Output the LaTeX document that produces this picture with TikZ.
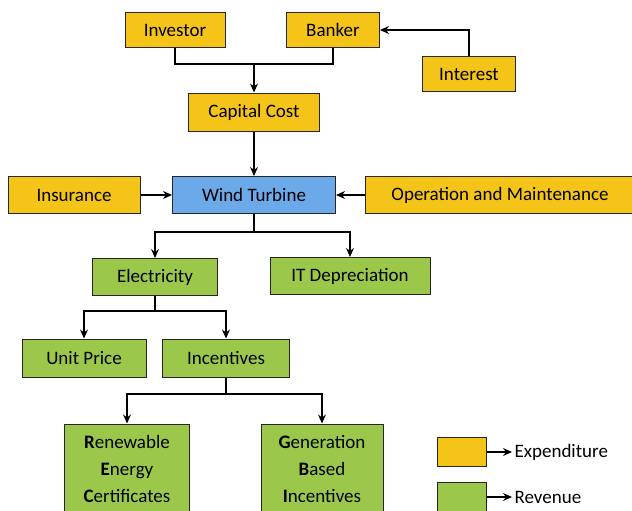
\documentclass[tikz,border=0pt]{standalone}
\usepackage{fontspec}
\setmainfont{Carlito}
\usetikzlibrary{arrows.meta,positioning}

\definecolor{costyellow}{RGB}{245,196,24}
\definecolor{hubblue}{RGB}{107,169,232}
\definecolor{incomegreen}{RGB}{155,200,74}

\begin{document}
\begin{tikzpicture}[x=1pt,y=-1pt,>={Stealth[length=9pt,width=8pt]},line width=1.2pt,
      box/.style={rectangle,draw=black!85,line width=1pt,inner sep=0pt,align=center,
        font=\fontsize{19}{27}\selectfont},
      cost node/.style={box,fill=costyellow},
      hub node/.style={box,fill=hubblue},
      income node/.style={box,fill=incomegreen}]
      \useasboundingbox (0,0) rectangle (632,511);

      % expenditure side
      \node[cost node,minimum width=100pt,minimum height=35pt] (investor) at (175,30) {Investor};
      \node[cost node,minimum width=93pt,minimum height=35pt] (banker) at (333,30) {Banker};
      \node[cost node,minimum width=93pt,minimum height=35pt] (interest) at (469,74) {Interest};
      \node[cost node,minimum width=131pt,minimum height=38pt] (capital) at (254,112) {Capital Cost};
      \node[hub node,minimum width=163pt,minimum height=37pt] (turbine) at (254,195) {Wind Turbine};
      \node[cost node,minimum width=132pt,minimum height=37pt] (insurance) at (74,195) {Insurance};
      \node[cost node,minimum width=270pt,minimum height=37pt] (om) at (500,195) {Operation and Maintenance};

      % revenue side
      \node[income node,minimum width=125pt,minimum height=37pt] (electricity) at (155,277) {Electricity};
      \node[income node,minimum width=160pt,minimum height=37pt] (itdep) at (350,276) {IT Depreciation};
      \node[income node,minimum width=124pt,minimum height=38pt] (unitprice) at (84,358) {Unit Price};
      \node[income node,minimum width=127pt,minimum height=38pt] (incentives) at (226,358) {Incentives};
      \node[income node,minimum width=125pt,minimum height=90pt] (rec) at (127,469)
        {\textbf{R}enewable\\\textbf{E}nergy\\\textbf{C}ertificates};
      \node[income node,minimum width=122pt,minimum height=90pt] (gbi) at (322,469)
        {\textbf{G}eneration\\\textbf{B}ased\\\textbf{I}ncentives};

      % branching points
      \coordinate (fork1) at (254,64);
      \coordinate (fork2) at (254,232);
      \coordinate (fork3) at (155,311);
      \coordinate (fork4) at (226,394);

      \draw (investor) |- (fork1) -| (banker);
      \draw[->] (fork1) -- (capital);
      \draw[->] (interest) |- (banker);
      \draw[->] (capital) -- (turbine);
      \draw[->] (insurance) -- (turbine);
      \draw[->] (om) -- (turbine);

      \draw (turbine) -- (fork2);
      \draw[->] (fork2) -| (electricity);
      \draw[->] (fork2) -| (itdep);
      \draw (electricity) -- (fork3);
      \draw[->] (fork3) -| (unitprice);
      \draw[->] (fork3) -| (incentives);
      \draw (incentives) -- (fork4);
      \draw[->] (fork4) -| (rec);
      \draw[->] (fork4) -| (gbi);

      % legend
      \node[cost node,minimum width=49pt,minimum height=29pt] (expbox) at (462,452) {};
      \node[income node,minimum width=49pt,minimum height=29pt] (revbox) at (462,497) {};
      \node[anchor=west,inner sep=2pt,font=\fontsize{19}{22}\selectfont] (explabel) at (512,452) {Expenditure};
      \node[anchor=west,inner sep=2pt,font=\fontsize{19}{22}\selectfont] (revlabel) at (512,497) {Revenue};
      \draw[->] (expbox) -- (explabel);
      \draw[->] (revbox) -- (revlabel);
\end{tikzpicture}
\end{document}
